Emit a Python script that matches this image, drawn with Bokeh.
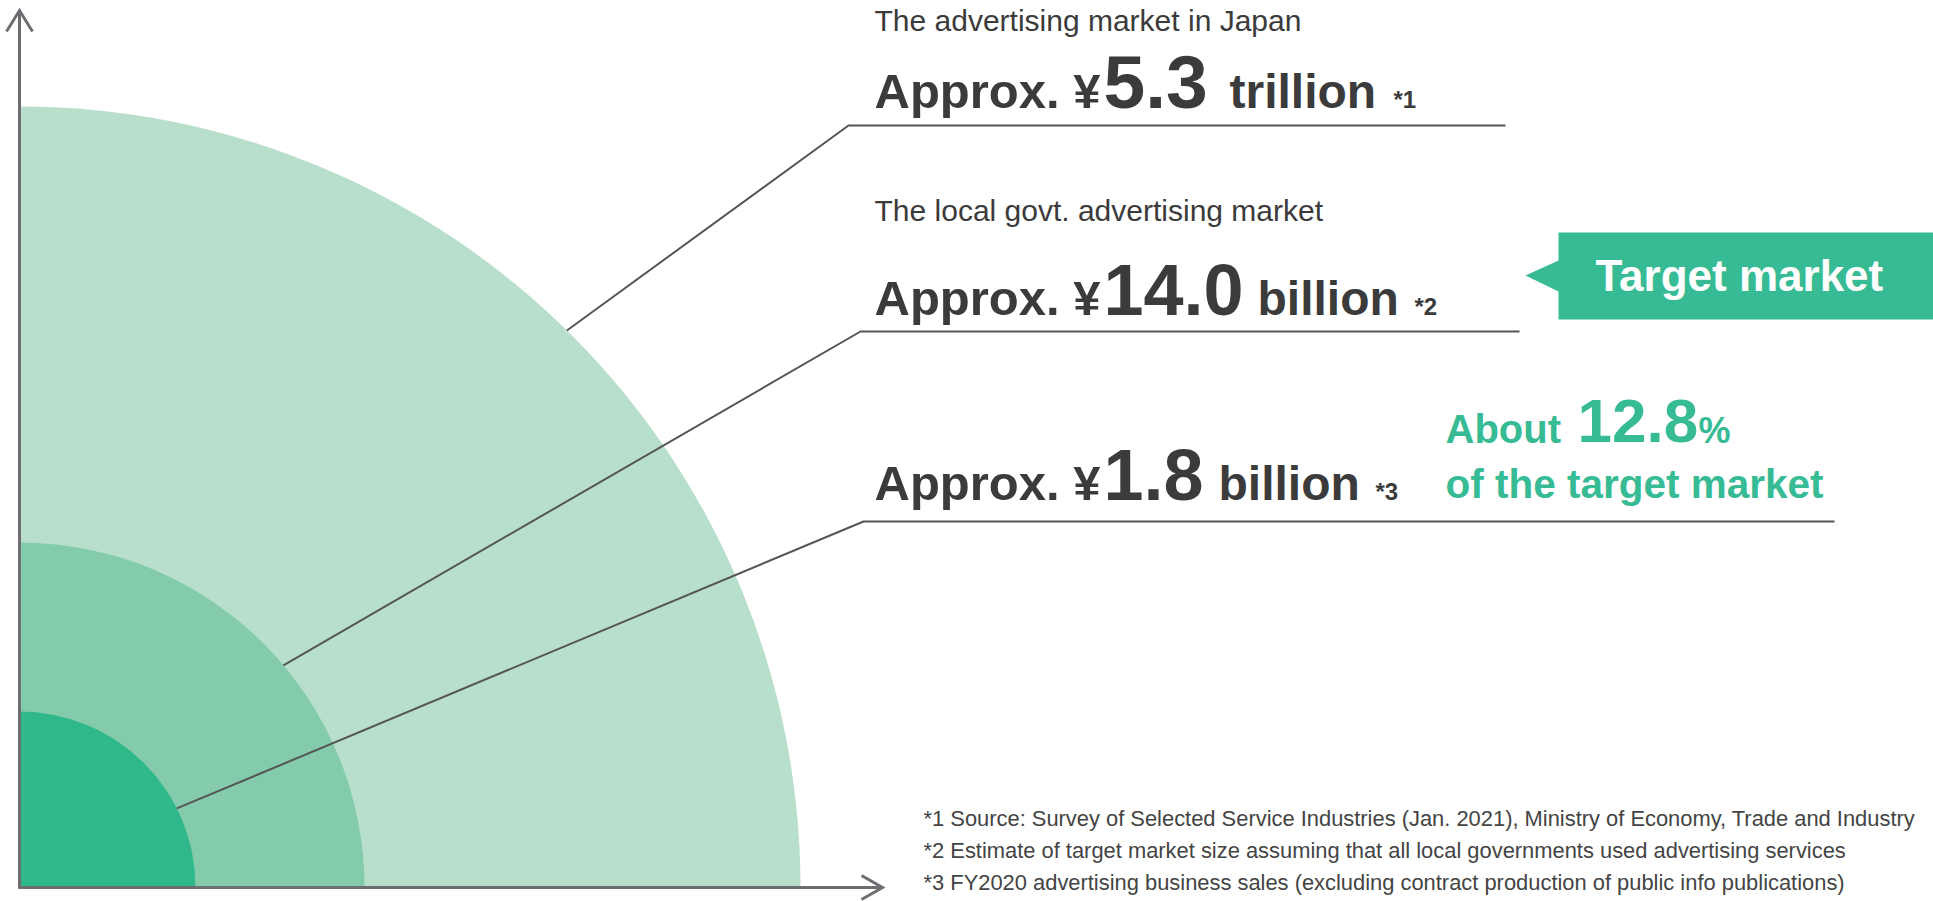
import math
from bokeh.plotting import figure
from bokeh.models import Range1d
from bokeh.core.properties import value
from bokeh.embed import file_html
from bokeh.resources import INLINE

# ---------------- data ----------------
market_titles = ["The advertising market in Japan", "The local govt. advertising market", ""]
market_prefix = ["Approx. ¥", "Approx. ¥", "Approx. ¥"]
market_values = ["5.3", "14.0", "1.8"]
market_units = ["trillion", "billion", "billion"]
market_notes = ["*1", "*2", "*3"]
circle_size = [781, 345, 176]          # schematic radii of the three quarter circles
anchor_angle = [45.5, 40.1, 26.7]      # where each leader line touches its circle (degrees)
share_value = "12.8"
share_prefix = "About"
share_suffix = "%"
share_caption = "of the target market"
badge_label = "Target market"
footnotes = [
    "*1 Source: Survey of Selected Service Industries (Jan. 2021), Ministry of Economy, Trade and Industry",
    "*2 Estimate of target market size assuming that all local governments used advertising services",
    "*3 FY2020 advertising business sales (excluding contract production of public info publications)",
]

# ---------------- layout / style ----------------
W, H = 1933, 901
def Y(s):
    return H - s

FONT = "Liberation Sans"
DARK = "#3b3b3b"
GREEN = "#37bb94"
circle_colors = ["#b8dfcc", "#83cbab", "#2fb98a"]
AXIS = "#6e6e72"
LEAD = "#555555"
BASE_FIX = 0.36  # shift so that the given y is the text's baseline

cx, cy = 19, 887  # origin in page pixels

p = figure(width=W, height=H, output_backend="svg", toolbar_location=None,
           x_range=Range1d(0, W), y_range=Range1d(0, H),
           x_axis_location=None, y_axis_location=None, min_border=0)
p.grid.visible = False
p.outline_line_color = None
p.background_fill_color = "white"
p.border_fill_color = "white"


def label(x, base, txt, size, color=DARK, bold=False):
    p.text(x=[x], y=[Y(base - BASE_FIX * size)], text=[txt], text_font=value(FONT),
           text_font_size=f"{size}px", text_font_style="bold" if bold else "normal",
           text_color=color, text_baseline="alphabetic", text_align="left")


# quarter circles
for r, c in zip(circle_size, circle_colors):
    p.wedge(x=[cx], y=[Y(cy)], radius=[r], start_angle=0, end_angle=math.pi / 2,
            fill_color=c, line_color=None)

# axes with open arrowheads
p.line([cx, cx], [Y(cy + 1), Y(10)], line_color=AXIS, line_width=3)
p.line([6, cx, 32], [Y(31), Y(10), Y(31)], line_color=AXIS, line_width=3, line_join="miter")
p.line([cx - 1, 882], [Y(cy), Y(cy)], line_color=AXIS, line_width=3)
p.line([861, 882, 861], [Y(875), Y(cy), Y(899)], line_color=AXIS, line_width=3, line_join="miter")

# leader lines
elbows = [(848, 125), (860, 331), (863, 521)]
ends = [1505, 1519, 1834]
for r, a, (ex, ey), x_end in zip(circle_size, anchor_angle, elbows, ends):
    sx = cx + r * math.cos(math.radians(a))
    sy = Y(cy) + r * math.sin(math.radians(a))
    p.line([sx, ex, x_end], [sy, Y(ey), Y(ey)], line_color=LEAD, line_width=2)

# labels
TX = 874
title_base = [31, 221, None]
big_base = [108, 315, 500]
unit_x = [1229, 1257, 1218]
note_x = [1393, 1414, 1375]
VAL_X = 1103

for i in range(3):
    if market_titles[i]:
        label(TX, title_base[i], market_titles[i], 30)
    label(TX, big_base[i], market_prefix[i], 49, bold=True)
    label(VAL_X, big_base[i], market_values[i], 72 if i else 75, bold=True)
    label(unit_x[i], big_base[i], market_units[i], 48, bold=True)
    label(note_x[i], big_base[i], market_notes[i], 24, bold=True)

# share annotation
label(1445, 443, share_prefix, 40, GREEN, True)
label(1577, 443, share_value, 62, GREEN, True)
label(1698, 443, share_suffix, 36, GREEN, True)
label(1445, 498, share_caption, 40.5, GREEN, True)

# target market badge
bx = [1525, 1558, 1558, 1933, 1933, 1558, 1558]
by = [275, 260, 232, 232, 319, 319, 291]
p.patch(bx, [Y(v) for v in by], fill_color=GREEN, line_color=None)
label(1595, 291, badge_label, 44, "white", True)

# footnotes
for t, b in zip(footnotes, [826, 858, 890]):
    label(923, b, t, 21.9, "#444444")

open("out.html", "w").write(file_html(p, INLINE))
